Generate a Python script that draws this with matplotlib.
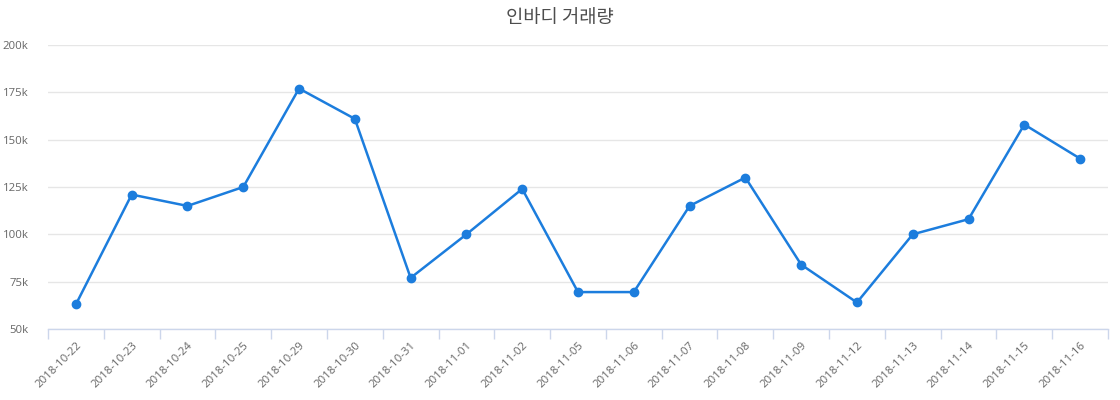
import matplotlib
matplotlib.use("Agg")
import matplotlib.pyplot as plt
from matplotlib.ticker import FixedLocator, FuncFormatter

dates = ["2018-10-22", "2018-10-23", "2018-10-24", "2018-10-25", "2018-10-29",
         "2018-10-30", "2018-10-31", "2018-11-01", "2018-11-02", "2018-11-05",
         "2018-11-06", "2018-11-07", "2018-11-08", "2018-11-09", "2018-11-12",
         "2018-11-13", "2018-11-14", "2018-11-15", "2018-11-16"]
volume = [63000, 121000, 115000, 125000, 177000, 161000, 77000, 100000, 124000,
          69500, 69500, 115000, 130000, 84000, 64000, 100000, 108000, 158000, 140000]
yticks = [50000, 75000, 100000, 125000, 150000, 175000, 200000]
title = "인바디 거래량"

fig = plt.figure(figsize=(11.2, 4.0), dpi=100)
ax = fig.add_axes([48/1120, 1-329/400, (1108-48)/1120, (329-45)/400])

x = list(range(len(dates)))
ax.plot(x, volume, color="#1c7ddd", linewidth=1.8, marker="o", markersize=6,
        zorder=3, clip_on=False)

ax.set_xlim(-0.5, len(dates) - 0.5)
ax.set_ylim(50000, 200000)
ax.set_yticks(yticks)
ax.yaxis.set_major_formatter(FuncFormatter(lambda v, p: f"{int(v/1000)}k"))
ax.grid(axis="y", color="#e6e6e6", linewidth=1)
ax.set_axisbelow(True)

ax.set_xticks(x)
ax.set_xticklabels(dates, rotation=45, ha="right", rotation_mode="anchor",
                   fontsize=8.2, color="#666666", family=["Open Sans", "DejaVu Sans"])
ax.xaxis.set_minor_locator(FixedLocator([i - 0.5 for i in range(len(dates) + 1)]))
ax.tick_params(axis="x", which="major", length=0, pad=8)
ax.tick_params(axis="x", which="minor", length=7, color="#ccd6eb", width=1)
ax.tick_params(axis="y", length=0, pad=14, labelsize=8.2, labelcolor="#666666")
for lbl in ax.get_yticklabels():
    lbl.set_family(["Open Sans", "DejaVu Sans"])

for s in ["left", "right", "top"]:
    ax.spines[s].set_visible(False)
ax.spines["bottom"].set_color("#ccd6eb")
ax.spines["bottom"].set_linewidth(1)

fig.text(0.5, 1 - 17/400, title, ha="center", va="center", fontsize=13.5,
         color="#4d4d4d", family=["Noto Sans CJK KR", "DejaVu Sans"])

fig.savefig("out.png", dpi=100)
